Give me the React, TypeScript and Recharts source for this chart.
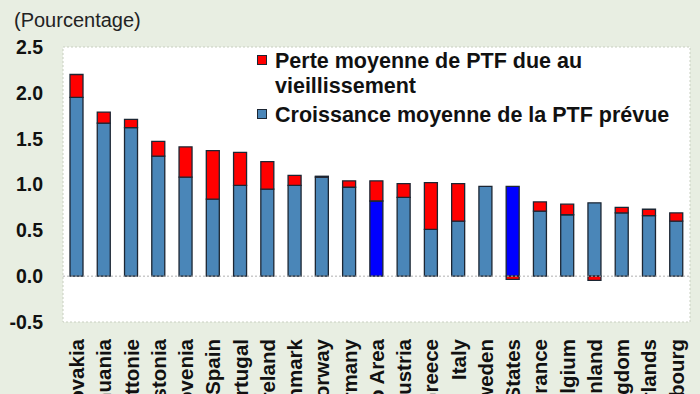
import React from "react";
import { BarChart, Bar, XAxis, YAxis, Cell, ReferenceArea, ReferenceLine } from "recharts";

const categories = [
  "Slovakia", "Lithuania", "Lettonie", "Estonia", "Slovenia", "Spain", "Portugal", "Ireland",
  "Denmark", "Norway", "Germany", "Euro Area", "Austria", "Greece", "Italy", "Sweden",
  "United States", "France", "Belgium", "Finland", "United Kingdom", "Netherlands", "Luxembourg",
];
const croissance = [1.95, 1.67, 1.62, 1.31, 1.08, 0.84, 0.99, 0.95, 0.99, 1.08, 0.97, 0.82, 0.86, 0.51, 0.6, 0.98, 0.98, 0.71, 0.67, 0.8, 0.69, 0.66, 0.6];
const perte = [0.25, 0.12, 0.09, 0.16, 0.33, 0.53, 0.36, 0.3, 0.11, 0.01, 0.07, 0.22, 0.15, 0.51, 0.41, 0, -0.035, 0.1, 0.115, -0.045, 0.06, 0.07, 0.09];
const highlighted = ["Euro Area", "United States"];
const yTicks = [-0.5, 0, 0.5, 1, 1.5, 2, 2.5];
const legendLabels = ["Perte moyenne de PTF due au", "vieillissement", "Croissance moyenne de la PTF prévue"];

const data = categories.map((c, i) => ({ name: c, croissance: croissance[i], perte: perte[i] }));

const BLUE = "#4a86b8";
const DARKBLUE = "#0000ff";
const RED = "#ff0000";
const STROKE = "#1c2633";
const FONT = "'Liberation Sans', Arial, sans-serif";

const CatTick = (props: any) => {
  const { x, y, payload } = props;
  return (
    <text
      x={x}
      y={y}
      transform={`rotate(-90, ${x}, ${y})`}
      textAnchor="end"
      dy="0.36em"
      fontFamily={FONT}
      fontWeight="bold"
      fontSize={20.5}
      fill="#111"
    >
      {payload.value}
    </text>
  );
};

export default function App() {
  return (
    <div style={{ position: "absolute", left: 0, top: 0, width: 700, height: 394, background: "#e8eee2", overflow: "hidden" }}>
      <BarChart
        width={700}
        height={394}
        data={data}
        stackOffset="sign"
        barSize={13}
        margin={{ top: 47, right: 10, bottom: 0, left: 0 }}
      >
        <ReferenceArea y1={-0.5} y2={2.5} fill="#ffffff" fillOpacity={1} stroke="#c8cfc0" strokeDasharray="2 2" ifOverflow="extendDomain" />
        <XAxis dataKey="name" interval={0} axisLine={false} tickLine={false} height={72} tick={<CatTick />} tickMargin={11} />
        <YAxis
          domain={[-0.5, 2.5]}
          ticks={yTicks}
          width={63}
          axisLine={false}
          tickLine={false}
          tickSize={0}
          tickMargin={20}
          tickFormatter={(v: number) => v.toFixed(1)}
          tick={{ fontFamily: FONT, fontWeight: "bold", fontSize: 19.5, fill: "#111" }}
        />
        <ReferenceLine y={0} stroke="#b0b0b0" strokeDasharray="2 2" />
        <Bar dataKey="croissance" stackId="a" fill={BLUE} stroke={STROKE} strokeWidth={1.3} isAnimationActive={false}>
          {data.map((d, i) => (
            <Cell key={i} fill={highlighted.includes(d.name) ? DARKBLUE : BLUE} />
          ))}
        </Bar>
        <Bar dataKey="perte" stackId="a" fill={RED} stroke={STROKE} strokeWidth={1.3} isAnimationActive={false} />
      </BarChart>
      <svg width={700} height={394} style={{ position: "absolute", left: 0, top: 0, pointerEvents: "none" }}>
        <text x={14} y={27} fontFamily={FONT} fontSize={20} fill="#222">(Pourcentage)</text>
        <rect x={257.5} y={55.5} width={9} height={9} fill={RED} stroke={STROKE} strokeWidth={1} />
        <rect x={257.5} y={109.5} width={9} height={9} fill={BLUE} stroke={STROKE} strokeWidth={1} />
        <g fontFamily={FONT} fontWeight="bold" fontSize={21.5} fill="#111">
          <text x={275} y={68}>{legendLabels[0]}</text>
          <text x={275} y={93}>{legendLabels[1]}</text>
          <text x={275} y={122}>{legendLabels[2]}</text>
        </g>
      </svg>
    </div>
  );
}
